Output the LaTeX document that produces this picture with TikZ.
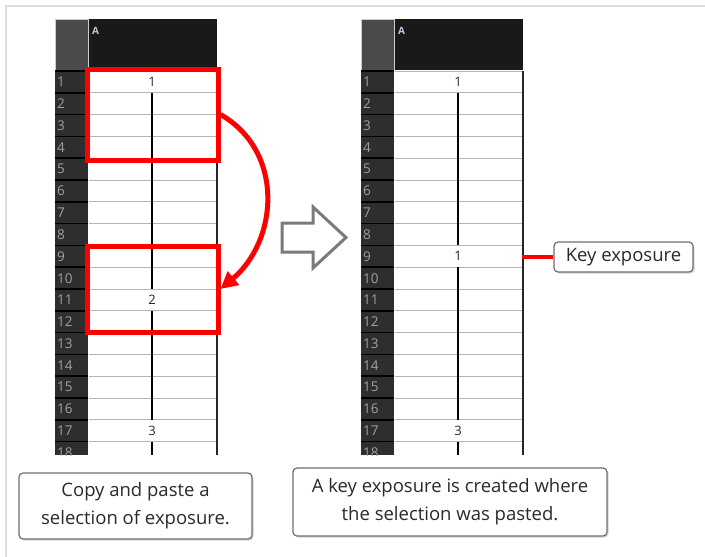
\documentclass[tikz,border=0pt]{standalone}
\usepackage{fontspec}
\setmainfont{Open Sans}
\usetikzlibrary{arrows.meta,positioning,shadows}

\definecolor{framecol}{HTML}{2E2E2E}
\definecolor{framenumcol}{HTML}{A0A0A0}
\definecolor{headgray}{HTML}{4A4A4A}
\definecolor{headdark}{HTML}{191919}
\definecolor{headtext}{HTML}{B8C8E0}
\definecolor{cellline}{HTML}{B4B4B4}
\definecolor{keyred}{HTML}{FF0000}
\definecolor{notegray}{HTML}{6E6E6E}
\definecolor{notetext}{HTML}{2A2A2A}
\definecolor{expcol}{HTML}{2B2240}
\definecolor{nextgray}{HTML}{7A7A7A}

\tikzset{
  framenum/.style={font=\fontsize{13.5}{13.5}\selectfont, text=framenumcol, anchor=west, inner sep=0pt},
  headlabel/.style={font=\fontsize{10}{10}\selectfont\bfseries, text=headtext, anchor=west, inner sep=0pt},
  expnum/.style={font=\fontsize{13}{13}\selectfont, text=expcol, fill=white, inner sep=1pt},
  exposure/.style={line width=2pt, black},
  selbox/.style={draw=keyred, line width=5pt, minimum width=131},
  pastearrow/.style={draw=keyred, line width=5pt, -{Triangle[length=17pt, width=17pt]}},
  nextarrow/.style={draw=nextgray, line width=3pt, line join=miter, fill=white},
  callout/.style={draw=notegray, line width=1.2pt, rounded corners=4pt, fill=white,
    text=notetext, align=center, font=\fontsize{18.5}{28}\selectfont,
    drop shadow={shadow xshift=1.5pt, shadow yshift=-1.5pt, opacity=0.35, fill=gray}},
  keyline/.style={keyred, line width=4pt}
}

\begin{document}
\begin{tikzpicture}[x=1pt, y=-1pt]
  \useasboundingbox (0,0) rectangle (705,557);
  % --- outer frame (top and left edge only) ---
  \draw[gray!25, line width=2pt] (6,557) -- (6,6) -- (705,6);

  % --- the two exposure sheets, before and after ---
  \foreach \dx/\s in {0/L, 306/R}{
    \begin{scope}[xshift=\dx]
      \clip (54,18) rectangle (218,455);
      \draw[gray!40, fill=headgray] (55,19) rectangle (88,70);
      \fill[headdark] (89,19) rectangle (217,70);
      \node[headlabel] (head\s) at (92,31) {A};
      \fill[framecol] (55,71) rectangle (88,455);
      \fill[white] (89,71) rectangle (216,455);
      \foreach \r in {1,...,18}{
        \pgfmathsetmacro\yt{71+(\r-1)*21.8}
        \draw[black, line width=1.5pt] (55,\yt) -- (88,\yt);
        \draw[cellline, line width=1pt] (89,\yt) -- (216,\yt);
        \node[framenum] (\s\r) at (57,\yt+11) {\r};
      }
      \draw[black!85, line width=2pt] (216.5,71) -- (216.5,455);
    \end{scope}
  }

  % --- exposure column, left sheet (1 / 2 / 3) ---
  \draw[exposure] (152,92.8) -- (152,289) (152,310.8) -- (152,419.8) (152,441.6) -- (152,455);
  \node[expnum] (lkey1) at (152,81.9) {1};
  \node[expnum] (lkey2) at (152,299.9) {2};
  \node[expnum] (lkey3) at (152,430.7) {3};

  % --- exposure column, right sheet (1 / 1 / 3) ---
  \draw[exposure] (458,92.8) -- (458,245.4) (458,267.2) -- (458,419.8) (458,441.6) -- (458,455);
  \node[expnum] (rkey1) at (458,81.9) {1};
  \node[expnum] (rkey2) at (458,256.3) {1};
  \node[expnum] (rkey3) at (458,430.7) {3};

  % --- selection copied and pasted ---
  \node[selbox, minimum height=91] (srcsel) at (152.5,114.5) {};
  \node[selbox, minimum height=86] (dstsel) at (152.5,289) {};
  \draw[pastearrow] (srcsel.east) to[out=-30, in=40, looseness=1.1] (dstsel.east);

  % --- hollow arrow between the sheets ---
  \draw[nextarrow] (282,223) -- (313,223) -- (313,207) -- (346,237.5)
    -- (313,268) -- (313,252) -- (282,252) -- cycle;

  % --- callouts ---
  \node[callout, minimum width=139, minimum height=30] (keyexp) at (623.5,257) {Key exposure};
  \coordinate (keyrow) at (522,257);
  \draw[keyline] (keyrow) -- (keyexp.west);

  \node[callout, minimum width=233, minimum height=66] (copynote) at (135.5,506)
    {Copy and paste a\\selection of exposure.};
  \node[callout, minimum width=314, minimum height=68] (pastenote) at (450,502)
    {A key exposure is created where\\the selection was pasted.};
\end{tikzpicture}
\end{document}
